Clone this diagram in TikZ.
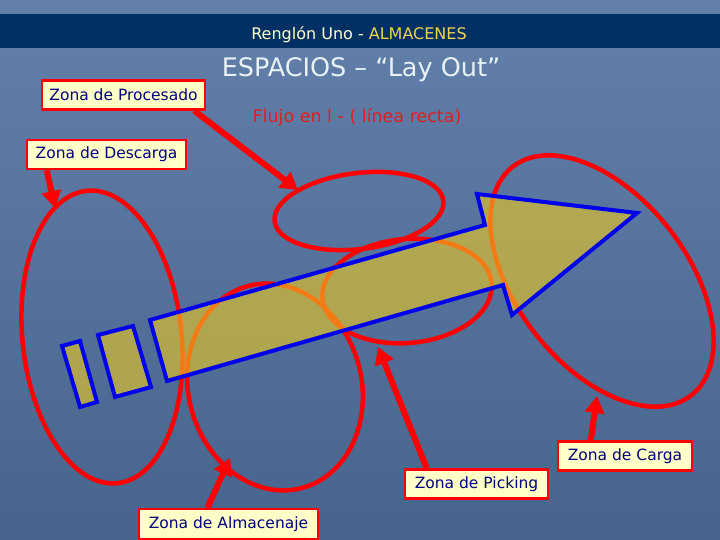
\documentclass[tikz,border=0pt]{standalone}
\usepackage{fontspec}
\setmainfont{DejaVu Sans}
\usetikzlibrary{shapes.geometric,arrows.meta}
\definecolor{bgtop}{RGB}{98,128,170}
\definecolor{bgmid}{RGB}{88,120,165}
\definecolor{bgbot}{RGB}{70,100,140}
\definecolor{band}{RGB}{0,48,100}
\definecolor{paleyellow}{RGB}{255,255,200}
\definecolor{titleyellow}{RGB}{240,212,80}
\definecolor{labelblue}{RGB}{0,0,128}
\definecolor{flowfill}{RGB}{236,200,36}
\definecolor{flowblue}{RGB}{0,0,235}
\definecolor{zonered}{RGB}{255,0,0}
\definecolor{flujored}{RGB}{225,30,30}
\definecolor{headwhite}{RGB}{232,242,246}

\begin{document}
\begin{tikzpicture}[x=1pt,y=-1pt,
    zone/.style={draw=zonered, line width=4.5pt, ellipse, inner sep=0pt},
    tag/.style={draw=red, line width=2.5pt, fill=paleyellow, text=labelblue,
        font=\fontsize{15.5}{18}\selectfont, minimum height=29pt, inner xsep=3pt},
    pointer/.style={draw=zonered, line width=6pt, -{Triangle[width=19pt,length=17pt]}},
    flow/.style={draw=flowblue, line width=4pt, fill=flowfill, fill opacity=0.62}]
    \useasboundingbox (0,0) rectangle (720,540);
    \shade[top color=bgtop, middle color=bgmid, bottom color=bgbot] (0,0) rectangle (720,540);
    \fill[band] (0,14) rectangle (720,48);

    % titles
    \node[font=\fontsize{16}{19}\selectfont] (title) at (359,35)
        {\textcolor{paleyellow}{Renglón Uno -} \textcolor{titleyellow}{ALMACENES}};
    \node[text=headwhite, font=\fontsize{25.5}{30}\selectfont] (heading) at (361,70) {ESPACIOS – “Lay Out”};
    \node[text=flujored, font=\fontsize{17.5}{20}\selectfont] (flujo) at (357,117) {Flujo en l - ( línea recta)};

    % zones
    \node[zone, minimum width=159pt, minimum height=294pt, rotate=6] (descargaZone) at (102,337) {};
    \node[zone, minimum width=173pt, minimum height=209pt, rotate=15] (almacenajeZone) at (275,387) {};
    \node[zone, minimum width=170pt, minimum height=76pt, rotate=7] (procesadoZone) at (359,211) {};
    \node[zone, minimum width=170pt, minimum height=104pt, rotate=5] (pickingZone) at (407,291) {};
    \node[zone, minimum width=290pt, minimum height=170pt, rotate=-52] (cargaZone) at (602,281) {};

    % flow arrow
    \path[flow] (150,320) -- (485,225) -- (477,194) -- (637,213) -- (512,315)
        -- (503,285) -- (167,381) -- cycle;
    \path[flow] (62,346) -- (80,341) -- (97,402) -- (80,407) -- cycle;
    \path[flow] (98,335) -- (133,326) -- (151,387) -- (115,397) -- cycle;

    % labels
    \node[tag, minimum width=163pt] (procesado) at (123.5,95) {Zona de Procesado};
    \node[tag, minimum width=159pt] (descarga) at (106.5,154.5) {Zona de Descarga};
    \node[tag, minimum width=179pt, minimum height=30pt] (almacenaje) at (228.5,524) {Zona de Almacenaje};
    \node[tag, minimum width=143pt] (picking) at (476.5,484) {Zona de Picking};
    \node[tag, minimum width=134pt] (carga) at (625,456) {Zona de Carga};

    \coordinate (procesadoTip) at (298,190);
    \coordinate (descargaTip) at (55,208);
    \coordinate (almacenajeTip) at (230,458);
    \coordinate (pickingTip) at (378,347);
    \coordinate (cargaTip) at (597,396);

    \draw[pointer] ([xshift=-12pt]procesado.south east) -- (procesadoTip);
    \draw[pointer] ([xshift=21pt]descarga.south west) -- (descargaTip);
    \draw[pointer] ([xshift=-21pt]almacenaje.north) -- (almacenajeTip);
    \draw[pointer] ([xshift=23pt]picking.north west) -- (pickingTip);
    \draw[pointer] ([xshift=34pt]carga.north west) -- (cargaTip);
\end{tikzpicture}
\end{document}
